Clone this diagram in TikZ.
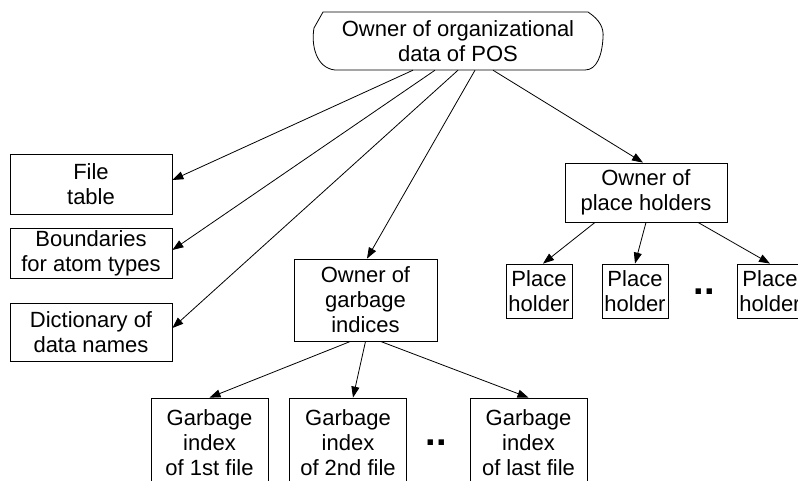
\documentclass[tikz,border=0pt]{standalone}
\usepackage{fontspec}
\setmainfont{Liberation Sans}
\usetikzlibrary{arrows.meta}
\begin{document}
\begin{tikzpicture}[x=1pt,y=-1pt,
  txt/.style={align=center, inner sep=0pt, font=\fontsize{22}{25}\selectfont},
  box/.style={txt, draw, line width=0.8pt},
  wide/.style={box, minimum width=162pt},
  leaf/.style={box, minimum width=66pt, minimum height=54pt},
  gidx/.style={box, minimum width=117pt, minimum height=90pt},
  link/.style={-{Triangle[length=11pt,width=8pt]}, line width=0.8pt},
  more/.style={font=\fontsize{38}{38}\selectfont\bfseries, anchor=base, inner sep=0pt}]
\useasboundingbox (0,0) rectangle (798,480);
\clip (0,0) rectangle (798,480);

% root: terminator-like outline around a text node
\node[txt, minimum width=290pt, minimum height=58pt] (top) at (458,41) {Owner of organizational\\data of POS};
\draw[line width=0.8pt] (323,12) -- (588,12)
  .. controls (600,20) and (604,28) .. (603,38)
  .. controls (602,55) and (597,70) .. (585,70) -- (335,70)
  .. controls (316,68) and (311,45) .. (314,28) -- cycle;

% left column
\node[wide, minimum height=60pt] (filetab) at (91,184) {File\\table};
\node[wide, minimum height=50pt] (bound) at (91,253) {Boundaries\\for atom types};
\node[wide, minimum height=58pt] (dict) at (91,332) {Dictionary of\\data names};

% garbage indices
\node[box, minimum width=143pt, minimum height=82pt] (garbo) at (365.5,300) {Owner of\\garbage\\indices};
\node[gidx] (g1) at (209.5,443) {Garbage\\index\\of 1st file};
\node[gidx] (g2) at (348,443) {Garbage\\index\\of 2nd file};
\node[gidx] (g3) at (528.5,443) {Garbage\\index\\of last file};
\node[more] (gdots) at (436,445) {..};

% place holders
\node[wide, minimum height=59pt] (pho) at (646,192.5) {Owner of\\place holders};
\node[leaf] (ph1) at (539,291) {Place\\holder};
\node[leaf] (ph2) at (635,291) {Place\\holder};
\node[leaf] (ph3) at (770,291) {Place\\holder};
\node[more] (pdots) at (704,294) {..};

% connectors
\draw[link] ([xshift=-45pt]top.south) -- ([yshift=4pt]filetab.east);
\draw[link] ([xshift=-23pt]top.south) -- ([yshift=3pt]bound.east);
\draw[link] (top.south) -- ([yshift=4pt]dict.east);
\draw[link] ([xshift=17pt]top.south) -- ([xshift=1.5pt]garbo.north);
\draw[link] ([xshift=35pt]top.south) -- ([xshift=-3pt]pho.north);

\draw[link] ([xshift=-51pt]pho.south) -- ([xshift=4pt]ph1.north);
\draw[link] (pho.south) -- (ph2.north);
\draw[link] ([xshift=52pt]pho.south) -- (ph3.north);

\draw[link] ([xshift=-15pt]garbo.south) -- (g1.north);
\draw[link] (garbo.south) -- ([xshift=5pt]g2.north);
\draw[link] ([xshift=15pt]garbo.south) -- (g3.north);
\end{tikzpicture}
\end{document}
